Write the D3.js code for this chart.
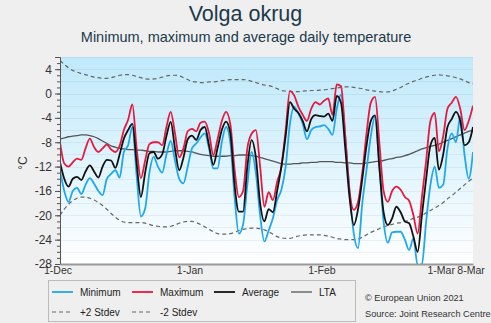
<!DOCTYPE html>
<html>
<head>
<meta charset="utf-8">
<script src="https://cdn.jsdelivr.net/npm/d3@7"></script>
<style>
  body { margin: 0; background: #efefef; font-family: "Liberation Sans", Arial, sans-serif; }
  svg { display: block; }
</style>
</head>
<body>
<svg id="chart" width="491" height="323"></svg>
<script>
// daily values, 1 Dec 2020 .. 8 Mar 2021
const tmin = [-12.6,-16.0,-17.8,-16.0,-15.5,-16.5,-15.0,-13.9,-14.8,-16.0,
  -16.7,-14.0,-13.2,-12.6,-13.8,-9.6,-8.5,-5.5,-13.5,-20.2,
  -18.9,-13.0,-10.4,-12.0,-13.0,-10.0,-7.8,-11.0,-14.0,-14.75,
  -12.0,-9.0,-8.2,-7.2,-6.55,-9.0,-12.3,-12.3,-8.0,-5.5,
  -8.0,-17.0,-23.0,-21.5,-15.0,-9.6,-13.0,-20.0,-24.3,-22.5,
  -20.5,-17.5,-15.8,-12.0,-5.0,-2.2,-3.3,-4.9,-7.5,-6.0,
  -5.5,-5.4,-5.2,-5.8,-6.8,-2.5,-0.2,-7.0,-16.0,-23.0,
  -25.4,-18.0,-12.5,-7.0,-3.8,-12.0,-21.0,-24.5,-22.8,-22.7,
  -22.7,-24.0,-25.7,-23.8,-28.2,-28.0,-21.0,-15.0,-12.0,-15.5,
  -15.0,-9.0,-6.55,-8.0,-3.8,-10.0,-14.0,-9.6];

const tmax = [-8.0,-11.5,-12.0,-11.3,-10.7,-10.9,-9.0,-7.4,-8.8,-9.6,
  -9.0,-8.4,-9.2,-9.6,-8.6,-6.0,-4.3,-1.8,-9.0,-13.9,
  -11.0,-8.3,-8.0,-8.0,-8.5,-5.5,-3.0,-6.5,-10.5,-9.0,
  -6.2,-5.8,-6.2,-4.8,-4.6,-6.5,-10.1,-7.5,-4.5,-3.0,
  -5.0,-12.5,-17.0,-16.0,-9.0,-6.6,-6.0,-12.0,-18.6,-16.2,
  -17.5,-14.5,-12.0,-6.0,0.4,-0.3,-2.2,-3.5,-4.5,-2.5,
  -1.4,-1.8,-1.2,-0.8,-3.5,1.5,1.2,-7.0,-16.0,-19.1,
  -17.8,-13.0,-6.5,-1.5,-0.55,-8.0,-16.0,-17.8,-16.0,-15.3,
  -15.8,-17.0,-17.6,-20.0,-23.0,-17.0,-11.0,-4.5,-3.2,-9.5,
  -7.0,-2.5,-1.5,-0.55,-2.5,-6.0,-4.5,-2.0];

const tavg = [-11.3,-14.0,-15.3,-14.0,-13.7,-14.2,-12.8,-11.8,-12.8,-13.8,
  -12.0,-10.9,-11.0,-12.2,-10.0,-7.4,-6.0,-5.0,-11.5,-17.0,
  -13.0,-9.8,-9.6,-10.7,-10.0,-7.0,-4.65,-9.0,-12.6,-10.5,
  -7.5,-6.9,-7.6,-6.0,-5.5,-8.5,-11.7,-9.0,-6.0,-4.6,
  -6.5,-15.0,-19.4,-19.4,-12.0,-7.65,-10.5,-18.0,-21.0,-19.0,
  -19.5,-16.0,-12.0,-7.0,-1.4,-2.5,-3.2,-4.5,-6.2,-4.2,
  -3.55,-3.7,-3.8,-3.3,-4.5,-0.4,-1.5,-9.0,-17.0,-21.6,
  -19.0,-14.0,-8.5,-4.5,-3.6,-12.0,-19.5,-21.6,-20.5,-18.6,
  -19.5,-21.0,-21.3,-23.5,-26.0,-20.0,-14.0,-8.5,-7.3,-12.5,
  -10.0,-5.5,-4.2,-3.0,-4.5,-8.5,-8.0,-5.5];

const lta = [-7.5,-7.3,-7.1,-7.0,-6.9,-6.8,-6.8,-6.9,-7.1,-7.4,
  -7.8,-8.2,-8.6,-8.8,-9.0,-9.1,-9.2,-9.2,-9.3,-9.3,
  -9.4,-9.5,-9.5,-9.6,-9.6,-9.6,-9.5,-9.4,-9.4,-9.4,
  -9.5,-9.6,-9.8,-10.0,-10.1,-10.2,-10.3,-10.3,-10.3,-10.3,
  -10.2,-10.2,-10.1,-10.1,-10.1,-10.2,-10.3,-10.5,-10.7,-10.9,
  -11.1,-11.3,-11.5,-11.6,-11.6,-11.5,-11.5,-11.4,-11.4,-11.3,
  -11.3,-11.2,-11.2,-11.2,-11.2,-11.3,-11.3,-11.4,-11.4,-11.5,
  -11.5,-11.5,-11.4,-11.3,-11.2,-11.1,-11.0,-10.8,-10.7,-10.5,
  -10.4,-10.2,-10.0,-9.7,-9.4,-9.1,-8.9,-8.7,-8.5,-8.3,
  -8.0,-7.7,-7.4,-7.1,-6.8,-6.5,-6.2,-6.0];

const plus2sd = [5.4,4.8,4.2,3.8,3.5,3.3,3.1,2.9,2.7,2.6,
  2.5,2.5,2.6,2.8,3.0,3.1,3.1,3.0,2.8,2.6,
  2.4,2.35,2.4,2.5,2.7,2.9,3.0,3.0,2.9,2.6,
  2.3,2.0,1.9,1.8,1.8,1.9,1.9,2.0,2.1,2.2,
  2.3,2.3,2.3,2.3,2.2,2.0,1.8,1.6,1.4,1.3,
  1.1,0.8,0.5,0.4,0.35,0.3,0.3,0.4,0.45,0.5,
  0.5,0.55,0.6,0.7,0.8,0.9,1.0,1.1,1.1,1.0,
  0.9,0.8,0.6,0.5,0.4,0.3,0.25,0.26,0.4,0.7,
  1.0,1.4,1.7,2.0,2.2,2.5,2.7,2.9,3.0,3.05,
  3.0,2.9,2.8,2.6,2.4,2.1,1.8,1.6];

const minus2sd = [-20.0,-19.0,-18.2,-17.6,-17.2,-17.0,-17.0,-17.2,-17.5,-17.9,
  -18.4,-19.0,-19.7,-20.3,-20.8,-21.1,-21.2,-21.2,-21.2,-21.2,
  -21.3,-21.5,-21.7,-21.8,-21.9,-21.9,-21.8,-21.6,-21.3,-21.1,
  -21.0,-21.0,-21.2,-21.5,-21.9,-22.3,-22.7,-23.0,-23.1,-23.1,
  -23.0,-22.8,-22.5,-22.3,-22.2,-22.1,-22.1,-22.2,-22.4,-22.7,
  -23.1,-23.5,-23.7,-23.8,-23.8,-23.6,-23.4,-23.3,-23.2,-23.2,
  -23.2,-23.2,-23.3,-23.4,-23.6,-23.8,-23.9,-24.0,-24.0,-24.0,
  -23.9,-23.6,-23.2,-22.8,-22.5,-22.2,-21.9,-21.7,-21.5,-21.3,
  -21.2,-21.0,-20.8,-20.5,-20.3,-20.0,-19.6,-19.2,-18.8,-18.4,
  -17.9,-17.3,-16.8,-16.2,-15.6,-15.0,-14.4,-13.9];

const xTickLabels = ["2020-12-01", "2021-01-01", "2021-02-01", "2021-03-01", "2021-03-08"];
const yTickValues = [-28, -24, -20, -16, -12, -8, -4, 0, 4];
const seriesNames = ["Minimum", "Maximum", "Average", "LTA", "+2 Stdev", "-2 Stdev"];

const svg = d3.select("#chart");
const margin = { left: 60, right: 473, top: 57, bottom: 264 };

const days = d3.utcDay.range(new Date(Date.UTC(2020, 11, 1)), new Date(Date.UTC(2021, 2, 9)));
const x = d3.scaleUtc().domain([days[0], days[days.length - 1]]).range([margin.left, margin.right]);
const y = d3.scaleLinear().domain([-28, 6]).range([margin.bottom, margin.top]);

// titles
svg.append("text")
  .attr("x", 245.5).attr("y", 21)
  .attr("text-anchor", "middle")
  .attr("font-size", 21.5)
  .attr("fill", "#1b3a4b")
  .text("Volga okrug");
svg.append("text")
  .attr("x", 246).attr("y", 42)
  .attr("text-anchor", "middle")
  .attr("font-size", 14.5)
  .attr("fill", "#1b3a4b")
  .text("Minimum, maximum and average daily temperature");

// plot background
const defs = svg.append("defs");
const grad = defs.append("linearGradient")
  .attr("id", "bg").attr("x1", 0).attr("y1", 0).attr("x2", 0).attr("y2", 1);
grad.append("stop").attr("offset", "0%").attr("stop-color", "#bfe9fb");
grad.append("stop").attr("offset", "100%").attr("stop-color", "#ffffff");
defs.append("clipPath").attr("id", "clip")
  .append("rect")
  .attr("x", margin.left).attr("y", margin.top)
  .attr("width", margin.right - margin.left).attr("height", margin.bottom - margin.top);

svg.append("rect")
  .attr("x", margin.left).attr("y", margin.top)
  .attr("width", margin.right - margin.left).attr("height", margin.bottom - margin.top)
  .attr("fill", "url(#bg)");

// grid lines every 2 degrees
svg.append("g")
  .selectAll("line")
  .data(d3.range(-26, 7, 2))
  .enter().append("line")
  .attr("x1", margin.left).attr("x2", margin.right)
  .attr("y1", d => Math.round(y(d)) + 0.5).attr("y2", d => Math.round(y(d)) + 0.5)
  .attr("stroke", "#000").attr("stroke-opacity", 0.05);

// series
const line = d3.line()
  .x((d, i) => x(days[i]))
  .y(d => y(d))
  .curve(d3.curveMonotoneX);

const plot = svg.append("g").attr("clip-path", "url(#clip)");

[plus2sd, minus2sd].forEach(s => {
  plot.append("path")
    .attr("d", line(s))
    .attr("fill", "none")
    .attr("stroke", "#666")
    .attr("stroke-width", 1.2)
    .attr("stroke-dasharray", "4,3");
});
plot.append("path").attr("d", line(lta))
  .attr("fill", "none").attr("stroke", "#555").attr("stroke-width", 1.3);
plot.append("path").attr("d", line(tmin))
  .attr("fill", "none").attr("stroke", "#1ea8f0").attr("stroke-width", 1.8);
plot.append("path").attr("d", line(tmax))
  .attr("fill", "none").attr("stroke", "#e8193c").attr("stroke-width", 1.8);
plot.append("path").attr("d", line(tavg))
  .attr("fill", "none").attr("stroke", "#111").attr("stroke-width", 1.8);

// y axis
const yAxis = svg.append("g")
  .attr("transform", `translate(${margin.left},0)`)
  .call(d3.axisLeft(y).tickValues(yTickValues).tickSize(5).tickPadding(3).tickFormat(d => String(d)));
svg.append("g")
  .attr("transform", `translate(${margin.left},0)`)
  .call(d3.axisLeft(y).tickValues(d3.range(-28, 7, 1)).tickSize(3).tickFormat(""))
  .call(g => g.select(".domain").remove());
svg.selectAll("g .tick line").attr("stroke", "#555");
yAxis.select(".domain").attr("stroke", "#555");
yAxis.selectAll("text")
  .attr("font-size", 12).attr("fill", "#333")
  .attr("font-family", "Liberation Sans, Arial, sans-serif");

svg.append("text")
  .attr("transform", "translate(27,163) rotate(-90)")
  .attr("text-anchor", "middle")
  .attr("font-size", 12)
  .attr("fill", "#333")
  .text("°C");

// x axis
const xAxis = svg.append("g")
  .attr("transform", `translate(0,${margin.bottom})`)
  .call(d3.axisBottom(x)
    .tickValues(xTickLabels.map(d => new Date(d + "T00:00:00Z")))
    .tickSize(0).tickPadding(3)
    .tickFormat(d3.utcFormat("%-d-%b")));
xAxis.select(".domain").attr("stroke", "#999").attr("stroke-width", 2);
xAxis.selectAll("text")
  .attr("font-size", 10.5).attr("fill", "#333").attr("dx", -2.5)
  .attr("font-family", "Liberation Sans, Arial, sans-serif");

// legend
svg.append("rect")
  .attr("x", 48.5).attr("y", 280.5).attr("width", 307).attr("height", 41)
  .attr("fill", "none").attr("stroke", "#bbb");

const legendItems = [
  { x: 52, y: 292, color: "#1ea8f0", width: 1.8, dash: null },
  { x: 132, y: 292, color: "#e8193c", width: 1.8, dash: null },
  { x: 214, y: 292, color: "#111", width: 1.8, dash: null },
  { x: 291, y: 292, color: "#555", width: 1.3, dash: null },
  { x: 52, y: 312, color: "#666", width: 1.2, dash: "4,3" },
  { x: 132, y: 312, color: "#666", width: 1.2, dash: "4,3" }
];
const legend = svg.append("g");
legendItems.forEach((it, i) => {
  legend.append("line")
    .attr("x1", it.x).attr("x2", it.x + 21)
    .attr("y1", it.y).attr("y2", it.y)
    .attr("stroke", it.color).attr("stroke-width", it.width)
    .attr("stroke-dasharray", it.dash);
  legend.append("text")
    .attr("x", it.x + 28).attr("y", it.y + 4)
    .attr("font-size", 10).attr("fill", "#222")
    .text(seriesNames[i]);
});

svg.append("text")
  .attr("x", 365).attr("y", 301)
  .attr("font-size", 9.2).attr("fill", "#333")
  .text("© European Union 2021");
svg.append("text")
  .attr("x", 365).attr("y", 317)
  .attr("font-size", 9.2).attr("fill", "#333")
  .text("Source: Joint Research Centre");
</script>
</body>
</html>
